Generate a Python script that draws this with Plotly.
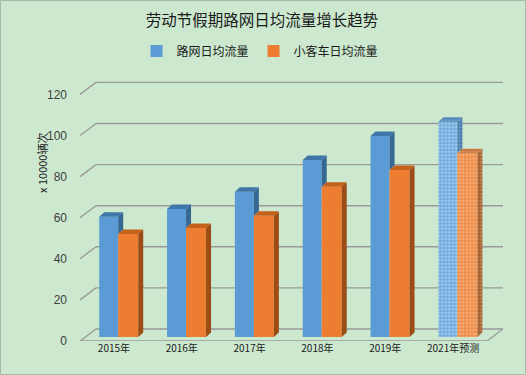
import plotly.graph_objects as go

# ---------------- data ----------------
categories = ["2015年", "2016年", "2017年", "2018年", "2019年", "2021年预测"]
road_flow = [58.5, 62.3, 70.7, 86.1, 97.8, 104.8]      # 路网日均流量
car_flow = [50.1, 53.0, 59.0, 73.1, 81.3, 89.4]        # 小客车日均流量
y_ticks = [0, 20, 40, 60, 80, 100, 120]
series_names = ["路网日均流量", "小客车日均流量"]

# ---------------- geometry (pixel -> data units) ----------------
W, H = 526, 375
L, R, T, B = 80, 23, 80, 34
PX_X = 67.83          # px per category
PX_Y = 2.055          # px per value unit
X0 = -0.5
X1 = X0 + (W - L - R) / PX_X
Y1 = (H - T - B) / PX_Y

def ux(px):
    return px / PX_X

def uy(px):
    return px / PX_Y

WALL_DX, WALL_DY = ux(16), uy(12)     # full floor depth
BASE = uy(4)                           # bars front face sits 1/3 into depth
BAR_DX, BAR_DY = ux(5), uy(4.5)        # bar depth
B_OFF, B_W = ux(-14.7), ux(19)
O_OFF, O_W = ux(4.3), ux(20)

BG = "#CCE8CF"
GRID = "#9A9A9A"
BLUE, BLUE_TOP, BLUE_SIDE = "#5B9BD5", "#3F76A9", "#376894"
ORNG, ORNG_TOP, ORNG_SIDE = "#ED7D31", "#C4621C", "#9C4D16"
CJK = "Noto Sans CJK SC"

n = len(categories)
xs = list(range(n))
last = n - 1

fig = go.Figure()

# front faces as bars
pat_shape = ["" for _ in xs[:-1]] + ["."]
fig.add_trace(go.Bar(
    x=xs, y=road_flow, base=[BASE] * n, offset=B_OFF, width=B_W,
    name=series_names[0],
    marker=dict(color=BLUE, line=dict(width=0),
                pattern=dict(shape=pat_shape, fgcolor="rgba(255,255,255,0.75)",
                             bgcolor="#74ADE0", size=3.5, solidity=0.35)),
))
fig.add_trace(go.Bar(
    x=xs, y=car_flow, base=[BASE] * n, offset=O_OFF, width=O_W,
    name=series_names[1],
    marker=dict(color=ORNG, line=dict(width=0),
                pattern=dict(shape=pat_shape, fgcolor="rgba(255,235,210,0.75)",
                             bgcolor="#F08F4C", size=3.5, solidity=0.35)),
))


def polys(idx_list, builder):
    px, py = [], []
    for i in idx_list:
        pts = builder(i)
        for (a, b) in pts + [pts[0]]:
            px.append(a)
            py.append(b)
        px.append(None)
        py.append(None)
    return px, py


def add_poly(idx_list, builder, color, patterned):
    px, py = polys(idx_list, builder)
    kw = {}
    if patterned:
        kw["fillpattern"] = dict(shape=".", fgcolor="rgba(255,255,255,0.45)",
                                 bgcolor=color, size=3.5, solidity=0.35)
    fig.add_trace(go.Scatter(x=px, y=py, mode="lines", fill="toself",
                             fillcolor=color, line=dict(width=0, color=color),
                             showlegend=False, hoverinfo="skip", **kw))


def blue_top(i):
    xl, xr, yt = i + B_OFF, i + B_OFF + B_W, BASE + road_flow[i]
    return [(xl, yt), (xr, yt), (xr + BAR_DX, yt + BAR_DY), (xl + BAR_DX, yt + BAR_DY)]


def blue_side(i):
    xr = i + B_OFF + B_W
    yt = BASE + road_flow[i]
    yo = BASE + car_flow[i]
    return [(xr, yt), (xr + BAR_DX, yt + BAR_DY), (xr + BAR_DX, yo + BAR_DY), (xr, yo)]


def orng_top(i):
    xl, xr, yt = i + O_OFF, i + O_OFF + O_W, BASE + car_flow[i]
    return [(xl, yt), (xr, yt), (xr + BAR_DX, yt + BAR_DY), (xl + BAR_DX, yt + BAR_DY)]


def orng_side(i):
    xr = i + O_OFF + O_W
    yt = BASE + car_flow[i]
    return [(xr, BASE), (xr, yt), (xr + BAR_DX, yt + BAR_DY), (xr + BAR_DX, BASE + BAR_DY)]


normal = xs[:-1]
add_poly(normal, blue_side, BLUE_SIDE, False)
add_poly([last], blue_side, "#4A7FAE", True)
add_poly(normal, blue_top, BLUE_TOP, False)
add_poly([last], blue_top, "#4F86B8", True)
add_poly(normal, orng_side, ORNG_SIDE, False)
add_poly([last], orng_side, "#A8612E", True)
add_poly(normal, orng_top, ORNG_TOP, False)
add_poly([last], orng_top, "#C8753A", True)

# ---------------- walls / gridlines ----------------
shapes = []
line = dict(color=GRID, width=1.4)
for v in y_ticks:
    # back wall gridline
    shapes.append(dict(type="line", xref="x", yref="y", layer="below",
                       x0=X0 + WALL_DX, x1=X1, y0=v + WALL_DY, y1=v + WALL_DY, line=line))
    # left wall diagonal
    shapes.append(dict(type="line", xref="x", yref="y", layer="below",
                       x0=X0, x1=X0 + WALL_DX, y0=v, y1=v + WALL_DY, line=line))
# floor front edge and right edge
shapes.append(dict(type="line", xref="x", yref="y", layer="below",
                   x0=X0, x1=n - 0.5, y0=0, y1=0, line=line))
shapes.append(dict(type="line", xref="x", yref="y", layer="below",
                   x0=n - 0.5, x1=X1, y0=0, y1=WALL_DY, line=line))
# chart border
pw, ph = W - L - R, H - T - B
shapes.append(dict(type="rect", xref="paper", yref="paper", layer="above",
                   x0=(0.5 - L) / pw, x1=(W - 0.5 - L) / pw,
                   y0=-(B - 0.5) / ph, y1=1 + (T - 0.5) / ph,
                   line=dict(color="#A9B9A9", width=1)))

fig.update_layout(
    width=W, height=H,
    margin=dict(l=L, r=R, t=T, b=B, autoexpand=False),
    paper_bgcolor=BG, plot_bgcolor=BG,
    barmode="overlay",
    shapes=shapes,
    title=dict(text="劳动节假期路网日均流量增长趋势", x=262 / W, xref="container",
               xanchor="center", y=1 - 21 / H, yref="container", yanchor="middle",
               font=dict(family=CJK, size=15.5, color="#1a1a1a")),
    legend=dict(orientation="h", x=260 / W, xanchor="center", xref="container",
                y=1 - 51 / H, yanchor="middle", yref="container",
                font=dict(family=CJK, size=12, color="#1a1a1a"),
                bgcolor="rgba(0,0,0,0)", itemwidth=30, tracegroupgap=0),
    xaxis=dict(range=[X0, X1], tickvals=xs, ticktext=categories, showgrid=False,
               zeroline=False, showline=False, ticks="",
               tickfont=dict(family="Noto Sans CJK SC", size=10, color="#1a1a1a")),
    yaxis=dict(range=[0, Y1], tickvals=y_ticks, showgrid=False, zeroline=False,
               showline=False, ticks="", ticklabelstandoff=12,
               tickfont=dict(family="Liberation Sans", size=12, color="#404040")),
    annotations=[dict(text="x 10000辆次", xref="paper", yref="paper",
                      x=(32 - L) / pw, y=(H - B - 131) / ph, showarrow=False,
                      textangle=-90, font=dict(family=CJK, size=11, color="#1a1a1a"))],
    showlegend=True,
)

fig.write_html("out.html", config={"displayModeBar": False},
               post_script="document.body.style.margin='0';document.body.style.padding='0';")
